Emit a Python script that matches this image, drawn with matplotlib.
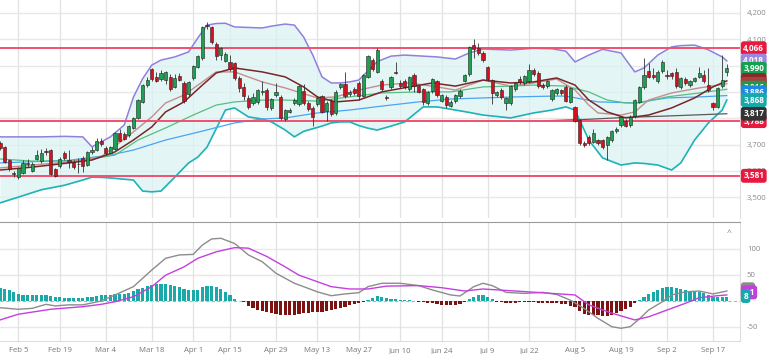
import numpy as np
import pandas as pd
import matplotlib
matplotlib.use("Agg")
import matplotlib.pyplot as plt

plt.rcParams['font.family'] = ['Open Sans', 'DejaVu Sans']

# --- trading calendar (weekdays without exchange holidays) ---
holidays = ["2024-02-01", "2024-02-12", "2024-03-28", "2024-04-10", "2024-04-11",
            "2024-05-01", "2024-05-22", "2024-06-03", "2024-06-17", "2024-07-08",
            "2024-09-16"]
dates = pd.bdate_range("2024-01-29", "2024-09-20")
dates = dates[~dates.isin(pd.to_datetime(holidays))]

tick_dates = ["2024-02-05", "2024-02-19", "2024-03-04", "2024-03-18", "2024-04-01",
              "2024-04-15", "2024-04-29", "2024-05-13", "2024-05-27", "2024-06-10",
              "2024-06-24", "2024-07-09", "2024-07-22", "2024-08-05", "2024-08-19",
              "2024-09-02", "2024-09-17"]

# --- daily candles ---
opens = [3705, 3689, 3641, 3593, 3578, 3593, 3625, 3599, 3646, 3638,
         3677, 3679, 3606, 3618, 3669, 3641, 3635, 3627, 3650, 3622,
         3670, 3679, 3713, 3688, 3669, 3682, 3745, 3740, 3735, 3762,
         3800, 3863, 3925, 3986, 3956, 3948, 3945, 3958, 3920, 3960,
         3935, 3892, 3952, 3994, 4028, 4152, 4146, 4082, 4040, 4019,
         4015, 4009, 3952, 3920, 3876, 3857, 3863, 3900, 3907, 3838,
         3890, 3880, 3796, 3825, 3858, 3854, 3905, 3857, 3840, 3854,
         3884, 3828, 3865, 3819, 3918, 3930, 3892, 3911, 3933, 3885,
         3958, 4021, 3977, 3943, 3880, 3918, 3975, 3935, 3941, 3910,
         3964, 3922, 3910, 3859, 3903, 3941, 3867, 3882, 3848, 3865,
         3884, 3943, 3968, 4078, 4066, 4049, 3994, 3945, 3889, 3908,
         3857, 3859, 3910, 3949, 3933, 3941, 3983, 3973, 3926, 3922,
         3872, 3896, 3907, 3918, 3863, 3841, 3793, 3705, 3730, 3711,
         3716, 3717, 3698, 3717, 3752, 3774, 3790, 3774, 3808, 3863,
         3918, 3979, 3964, 3941, 3979, 3962, 3971, 3976, 3918, 3949,
         3926, 3941, 3958, 3964, 3926, 3857, 3844, 3922, 3977]
highs = [3712, 3695, 3646, 3600, 3614, 3640, 3645, 3632, 3679, 3683,
         3688, 3684, 3612, 3652, 3675, 3679, 3640, 3650, 3655, 3677,
         3692, 3724, 3724, 3693, 3696, 3748, 3758, 3748, 3775, 3806,
         3872, 3930, 3958, 3990, 3975, 3985, 3980, 3968, 3968, 3972,
         3940, 3942, 4003, 4040, 4150, 4167, 4152, 4090, 4070, 4052,
         4040, 4015, 3960, 3935, 3890, 3895, 3912, 3940, 3915, 3878,
         3935, 3888, 3836, 3840, 3875, 3928, 3930, 3865, 3846, 3885,
         3890, 3865, 3872, 3906, 3935, 3975, 3906, 3918, 3940, 3968,
         4042, 4030, 4066, 3950, 3890, 3962, 4015, 3945, 3948, 3962,
         3970, 3928, 3915, 3905, 3952, 3946, 3893, 3888, 3868, 3893,
         3910, 3968, 4075, 4100, 4085, 4055, 4000, 3950, 3905, 3915,
         3880, 3926, 3938, 3960, 3964, 4005, 3992, 3980, 3932, 3946,
         3912, 3916, 3912, 3925, 3918, 3846, 3798, 3712, 3736, 3760,
         3722, 3722, 3732, 3757, 3765, 3808, 3796, 3811, 3874, 3922,
         4030, 4010, 3990, 3982, 4020, 3985, 3976, 3990, 3956, 3955,
         3946, 3956, 3995, 3985, 3990, 3862, 3918, 4040, 4005]
lows = [3680, 3630, 3600, 3575, 3568, 3588, 3615, 3594, 3640, 3630,
        3660, 3585, 3576, 3610, 3640, 3610, 3605, 3590, 3595, 3618,
        3665, 3675, 3696, 3660, 3664, 3678, 3712, 3716, 3728, 3758,
        3796, 3858, 3920, 3940, 3936, 3942, 3930, 3905, 3915, 3940,
        3858, 3886, 3946, 3990, 4020, 4140, 4082, 4020, 4020, 4015,
        3980, 3945, 3900, 3870, 3835, 3850, 3855, 3890, 3830, 3832,
        3880, 3795, 3790, 3818, 3850, 3848, 3852, 3828, 3770, 3846,
        3818, 3790, 3810, 3812, 3910, 3878, 3886, 3890, 3868, 3880,
        3952, 3980, 3970, 3905, 3870, 3912, 3968, 3916, 3912, 3904,
        3900, 3895, 3850, 3852, 3897, 3882, 3860, 3840, 3842, 3858,
        3878, 3938, 3962, 4030, 4040, 4015, 3940, 3855, 3882, 3874,
        3830, 3852, 3904, 3930, 3926, 3935, 3962, 3915, 3910, 3916,
        3866, 3890, 3890, 3860, 3856, 3784, 3700, 3690, 3698, 3705,
        3700, 3684, 3641, 3710, 3745, 3768, 3765, 3768, 3802, 3856,
        3912, 3952, 3950, 3935, 3973, 3950, 3950, 3915, 3912, 3928,
        3920, 3936, 3952, 3935, 3900, 3830, 3838, 3916, 3960]
closes = [3686, 3635, 3606, 3589, 3610, 3629, 3630, 3626, 3660, 3667,
          3673, 3588, 3580, 3645, 3648, 3635, 3616, 3624, 3620, 3673,
          3678, 3713, 3701, 3669, 3690, 3745, 3715, 3722, 3770, 3800,
          3869, 3926, 3945, 3948, 3941, 3973, 3975, 3910, 3954, 3945,
          3865, 3938, 3999, 4036, 4146, 4150, 4089, 4036, 4066, 4044,
          3986, 3952, 3914, 3884, 3842, 3880, 3907, 3905, 3844, 3872,
          3898, 3800, 3831, 3831, 3868, 3922, 3859, 3834, 3806, 3876,
          3825, 3859, 3816, 3901, 3930, 3884, 3900, 3896, 3884, 3964,
          4037, 3986, 4059, 3911, 3876, 3958, 3972, 3922, 3917, 3958,
          3922, 3900, 3863, 3901, 3948, 3888, 3888, 3850, 3862, 3888,
          3905, 3964, 4070, 4062, 4047, 4021, 3948, 3895, 3899, 3880,
          3876, 3922, 3933, 3937, 3960, 3983, 3969, 3922, 3917, 3941,
          3907, 3911, 3896, 3867, 3914, 3789, 3705, 3697, 3705, 3745,
          3707, 3690, 3727, 3752, 3760, 3803, 3770, 3806, 3869, 3918,
          3964, 3958, 3958, 3977, 4015, 3960, 3962, 3922, 3952, 3933,
          3941, 3952, 3971, 3941, 3907, 3844, 3914, 3945, 3990]

# --- Bollinger bands (read at these bar positions) ---
bb_idx = [0, 4, 9, 14, 18, 20, 22, 24, 27, 29, 31, 33, 35, 38, 41, 43, 45, 47, 49, 51,
          54, 57, 59, 62, 64, 66, 68, 70, 72, 74, 76, 78, 80, 82, 85, 88, 92, 95, 99, 102,
          105, 111, 116, 120, 123, 125, 128, 131, 135, 138, 140, 143, 146, 148, 151, 154,
          157, 158]
bb_upper = [3729, 3729, 3729, 3731, 3729, 3691, 3710, 3729, 3774, 3880, 3950, 4002, 4021,
            4033, 4052, 4105, 4154, 4160, 4161, 4147, 4145, 4143, 4150, 4158, 4154, 4109,
            4040, 3957, 3934, 3934, 3938, 3945, 3980, 4015, 4036, 4040, 4036, 4033, 4025,
            4048, 4063, 4059, 4066, 4064, 4055, 4014, 4040, 4062, 4048, 3976, 3991, 4040,
            4071, 4076, 4078, 4060, 4033, 4018]
bb_lower = [3478, 3500, 3528, 3545, 3565, 3576, 3575, 3573, 3568, 3565, 3523, 3520, 3523,
            3576, 3630, 3652, 3690, 3760, 3831, 3839, 3805, 3797, 3786, 3755, 3729, 3750,
            3760, 3770, 3782, 3786, 3786, 3772, 3762, 3755, 3770, 3786, 3843, 3843, 3831,
            3822, 3812, 3801, 3820, 3831, 3843, 3831, 3717, 3649, 3622, 3630, 3628, 3622,
            3603, 3630, 3717, 3782, 3831, 3869]

# --- moving averages ---
ma_dark_idx = [0, 7, 15, 20, 25, 29, 33, 36, 40, 44, 47, 51, 57, 62, 66, 69, 73, 78, 83,
               89, 94, 99, 105, 111, 116, 121, 125, 128, 132, 136, 138, 141, 146, 151, 155, 158]
ma_dark = [3603, 3614, 3630, 3641, 3672, 3717, 3767, 3824, 3862, 3926, 3972, 3991, 3976,
           3957, 3919, 3881, 3862, 3869, 3900, 3919, 3934, 3922, 3945, 3934, 3938, 3953,
           3926, 3869, 3824, 3801, 3805, 3812, 3839, 3877, 3919, 3942]
ma_rose_idx = [0, 15, 22, 29, 33, 36, 40, 44, 47, 51, 57, 62, 69, 73, 78, 83, 89, 95, 99,
               105, 111, 116, 121, 125, 128, 130, 135, 138, 141, 146, 152, 158]
ma_rose = [3611, 3634, 3653, 3748, 3805, 3858, 3888, 3938, 3976, 3976, 3938, 3915, 3877,
           3881, 3907, 3926, 3934, 3919, 3907, 3945, 3922, 3934, 3949, 3907, 3850, 3820,
           3812, 3824, 3869, 3896, 3915, 3931]
ma_green_idx = [0, 7, 15, 20, 25, 30, 36, 42, 47, 51, 57, 62, 69, 76, 83, 91, 98, 105,
                111, 116, 123, 128, 132, 136, 139, 145, 152, 158]
ma_green = [3645, 3637, 3637, 3645, 3660, 3717, 3763, 3812, 3850, 3862, 3869, 3869, 3865,
            3881, 3896, 3900, 3900, 3919, 3922, 3926, 3922, 3900, 3869, 3858, 3858, 3881,
            3896, 3910]
ma_blue_idx = [0, 15, 24, 29, 36, 44, 51, 57, 62, 69, 76, 83, 91, 98, 105, 112, 120, 123,
               130, 138, 145, 152, 158]
ma_blue = [3630, 3640, 3660, 3679, 3717, 3751, 3782, 3797, 3801, 3820, 3831, 3846, 3862,
           3873, 3877, 3881, 3884, 3884, 3862, 3858, 3877, 3881, 3886]
ma_gray_idx = [118, 128, 136, 146, 158]
ma_gray = [3790, 3796, 3803, 3809, 3817]

levels = [4066, 3788, 3581]

# --- MACD ---
macd_idx = [0, 4, 7, 10, 12, 15, 18, 22, 25, 29, 33, 36, 39, 42, 44, 46, 48, 51, 54, 57,
            60, 64, 66, 69, 72, 75, 78, 80, 83, 87, 91, 94, 98, 100, 103, 105, 107, 110,
            114, 118, 121, 124, 127, 130, 133, 135, 137, 139, 141, 144, 146, 149, 152,
            155, 158]
macd_line = [-13.5, -16.5, -14.7, -7, -10, -8, -8, -0.6, 11, 27, 59, 81.5, 88, 89, 107,
             118.7, 120, 110, 88, 75, 52.7, 33.5, 27, 17, 9.6, 13, 15.4, 27, 33.5, 33.5,
             29, 20.6, 11, 9, 27, 33.5, 29, 16, 14, 16, 12, 1, -15, -34, -50, -53, -50,
             -35, -18, -2, 11, 17, 18.6, 13, 18.6]
signal_idx = [0, 4, 11, 18, 22, 25, 29, 33, 36, 40, 43, 47, 51, 54, 58, 62, 65, 69, 72,
              76, 80, 84, 91, 96, 101, 105, 112, 120, 125, 128, 133, 138, 141, 145, 149,
              152, 156, 158]
signal_line = [-37, -26, -16.5, -11.5, -7, -2, 7.7, 27, 49, 65, 81.5, 94, 102, 101, 85,
               65, 49, 36.5, 27, 22.5, 22.5, 28, 29, 25, 18.6, 22.5, 18.6, 14, 11, -8,
               -24, -37, -31, -18, -5, 5.8, 9.6, 11]
histogram = [24, 23, 20, 16, 12, 11, 10, 10, 10, 10, 10, 9, 7, 7, 6, 6, 6, 6, 6, 7,
             8, 9, 10, 10, 11, 12, 12, 13, 14, 18, 22, 25, 28, 30, 32, 33, 32, 30, 28, 26,
             22, 20, 20, 21, 26, 28, 28, 26, 22, 17, 10, 4, 0, -3, -10, -14, -17, -19, -21, -23,
             -25, -27, -28, -28, -27, -25, -24, -23, -22, -22, -21, -20, -18, -16, -14, -12, -9, -7, -5, -3,
             2, 6, 9, 7, 5, 4, 3, 2, 2, 1, 0, -2, -3, -4, -5, -6, -8, -9, -9, -8,
             -6, -2, 4, 8, 10, 11, 8, 3, -2, -3, -4, -4, -4, -3, -3, -3, -3, -4, -4, -4,
             -4, -5, -6, -7, -10, -13, -20, -25, -27, -28, -28, -30, -29, -27, -24, -20, -16, -12, -5, 2,
             8, 13, 17, 21, 25, 26, 26, 25, 22, 20, 19, 17, 16, 15, 11, 8, 8, 7, 8]

assert len(dates) == len(opens) == len(highs) == len(lows) == len(closes) == len(histogram)

x = np.arange(len(dates))
tick_pos = [dates.get_loc(pd.Timestamp(d)) for d in tick_dates]
tick_lab = [f"{pd.Timestamp(d):%b} {pd.Timestamp(d).day}" for d in tick_dates]

W, H = 768, 354
fig = plt.figure(figsize=(W / 100, H / 100), dpi=100)
ax = fig.add_axes([0, 1 - 218 / H, 740 / W, 218 / H])
ax2 = fig.add_axes([0, 1 - 341 / H, 740 / W, 119 / H])

xlim = (0, 160.87)
grid_c = "#e8e8e8"

# ---------------- price panel ----------------
ax.set_xlim(*xlim)
ax.set_ylim(3420.6, 4249.4)
for v in range(3500, 4201, 100):
    ax.axhline(v, color=grid_c, lw=1.0, zorder=0)
for p in tick_pos:
    ax.axvline(p, color="#e2e2e2", lw=0.9, zorder=0)

ax.fill_between(bb_idx, bb_lower, bb_upper, color="#dcf2f2", alpha=0.75, lw=0, zorder=1)
ax.plot(bb_idx, bb_upper, color="#8f80dc", lw=1.1, zorder=2)
ax.plot(bb_idx, bb_lower, color="#1fb2b6", lw=1.2, zorder=2)
ax.plot(ma_blue_idx, ma_blue, color="#4aa5f0", lw=0.9, zorder=2)
ax.plot(ma_green_idx, ma_green, color="#55bf82", lw=0.9, zorder=2)
ax.plot(ma_gray_idx, ma_gray, color="#5a5a5a", lw=0.9, zorder=2)
ax.plot(ma_rose_idx, ma_rose, color="#c58e8e", lw=1.0, zorder=2)
ax.plot(ma_dark_idx, ma_dark, color="#7a2626", lw=1.1, zorder=2)
for lv in levels:
    ax.axhline(lv, color="#f0506f", lw=1.4, zorder=2)

o = np.array(opens); c = np.array(closes)
up = c >= o
body_lo = np.minimum(o, c)
body_h = np.maximum(np.abs(c - o), 2.5)
ax.vlines(x, lows, highs, color="#333333", lw=0.6, zorder=3)
ax.bar(x, body_h, bottom=body_lo, width=0.66,
       color=np.where(up, "#1ea052", "#d0121f"), edgecolor="#222222", lw=0.4, zorder=4)

ax.set_xticks([])
ax.yaxis.tick_right()
ax.set_yticks(range(3500, 4201, 100))
ax.set_yticklabels([f"{v:,}" for v in range(3500, 4201, 100)])
ax.tick_params(axis="y", length=0, pad=5, labelsize=5.6, labelcolor="#8a8a8a")
for s in ["top", "left", "bottom"]:
    ax.spines[s].set_visible(False)
ax.spines["right"].set_color("#dddddd")


def tag(a, y, text, color, z):
    a.text(1.0045, y, text, transform=a.get_yaxis_transform(), ha="left", va="center",
           fontsize=5.9, fontweight="bold", color="white", zorder=z, clip_on=False,
           bbox=dict(boxstyle="round,pad=0.3,rounding_size=0.35", fc=color, ec="none"))


tag(ax, 4066, "4,066", "#e8193f", 10)
tag(ax, 4019, "4,018", "#9c88e0", 10)
tag(ax, 3988, "3,990", "#14a04e", 10)
tag(ax, 3945, "3,942", "#8a2a2a", 10)
tag(ax, 3930, "3,931", "#a8403f", 11)
tag(ax, 3916, "3,916", "#1f9a4c", 12)
tag(ax, 3898, "3,886", "#1e88e5", 13)
tag(ax, 3869, "3,868", "#17a9a9", 14)
tag(ax, 3789, "3,788", "#e8193f", 10)
tag(ax, 3817, "3,817", "#333333", 11)
tag(ax, 3581, "3,581", "#e8193f", 10)

# ---------------- MACD panel ----------------
ax2.set_xlim(*xlim)
ax2.set_ylim(-77.5, 151.3)
for v in [100, 50, -50]:
    ax2.axhline(v, color=grid_c, lw=1.0, zorder=0)
ax2.axhline(0, color="#b5b5b5", lw=0.8, ls=(0, (3, 2)), zorder=0)
for p in tick_pos:
    ax2.axvline(p, color="#e2e2e2", lw=0.9, zorder=0)

hist = np.array(histogram)
ax2.bar(x, hist, width=0.72, color=np.where(hist >= 0, "#1aa8a8", "#7c1212"), zorder=2)
ax2.plot(macd_idx, macd_line, color="#8c8c8c", lw=1.0, zorder=3)
ax2.plot(signal_idx, signal_line, color="#c43fe0", lw=1.0, zorder=3)

ax2.set_xticks(tick_pos)
ax2.set_xticklabels(tick_lab)
ax2.tick_params(axis="x", length=0, pad=4.5, labelsize=5.6, labelcolor="#777777")
ax2.yaxis.tick_right()
ax2.set_yticks([100, 50, -50])
ax2.set_yticklabels(["100", "50", "-50"])
ax2.tick_params(axis="y", length=0, pad=5, labelsize=5.6, labelcolor="#8a8a8a")
ax2.spines["left"].set_visible(False)
ax2.spines["top"].set_color("#9a9a9a")
ax2.spines["bottom"].set_color("#dddddd")
ax2.spines["right"].set_color("#dddddd")

tag(ax2, 22, "19", "#8c8c8c", 10)
tag(ax2, 16, " 11", "#c43fe0", 11)
tag(ax2, 9, "8", "#17a9a9", 12)
ax2.text(0.985, 0.9, "^", transform=ax2.transAxes, ha="center", va="center",
         fontsize=6, color="#777777")

fig.savefig("out.png", dpi=100)
